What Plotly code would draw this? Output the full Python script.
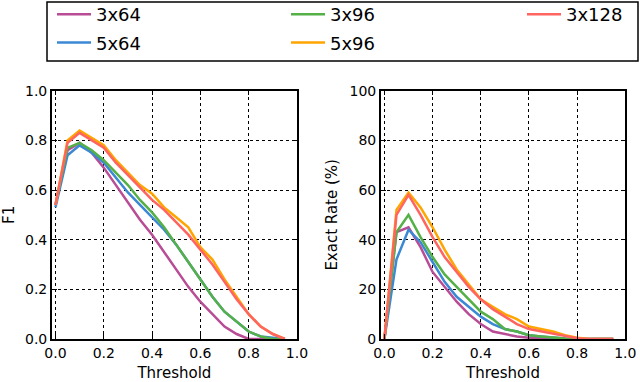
import plotly.graph_objects as go
from plotly.subplots import make_subplots

thresholds = [0.0, 0.05, 0.1, 0.15, 0.2, 0.25, 0.3, 0.35, 0.4, 0.45,
              0.5, 0.55, 0.6, 0.65, 0.7, 0.75, 0.8, 0.85, 0.9, 0.95]

# F1 per threshold
f1_3x64 = [0.54, 0.76, 0.79, 0.75, 0.69, 0.62, 0.55, 0.48, 0.42, 0.35,
           0.28, 0.21, 0.15, 0.10, 0.05, 0.02, 0.0, 0.0, 0.0, 0.0]
f1_5x64 = [0.53, 0.74, 0.78, 0.75, 0.71, 0.65, 0.59, 0.54, 0.49, 0.44,
           0.38, 0.31, 0.24, 0.17, 0.11, 0.07, 0.03, 0.01, 0.005, 0.0]
f1_3x96 = [0.54, 0.77, 0.79, 0.76, 0.72, 0.67, 0.62, 0.56, 0.51, 0.45,
           0.38, 0.31, 0.24, 0.17, 0.11, 0.07, 0.03, 0.01, 0.0, 0.0]
f1_5x96 = [0.54, 0.80, 0.84, 0.81, 0.78, 0.72, 0.67, 0.62, 0.585, 0.53,
           0.49, 0.45, 0.37, 0.32, 0.24, 0.17, 0.10, 0.05, 0.02, 0.0]
f1_3x128 = [0.54, 0.79, 0.83, 0.80, 0.77, 0.71, 0.66, 0.61, 0.56, 0.52,
            0.47, 0.42, 0.36, 0.30, 0.23, 0.16, 0.10, 0.05, 0.02, 0.0]

# exact rate (%) per threshold
er_3x64 = [0, 43, 45, 37, 27, 21, 15, 10, 6, 3, 2, 1, 0.5, 0.2, 0, 0, 0, 0, 0, 0]
er_5x64 = [0, 32, 44, 39, 31, 23, 17, 13, 9, 6, 4, 3, 1.5, 1, 0.5, 0.2, 0, 0, 0, 0]
er_3x96 = [0, 43, 50, 41, 33, 26, 21, 16, 11, 8, 4, 3, 1.5, 1, 0.5, 0.2, 0, 0, 0, 0]
er_5x96 = [0, 52, 59, 53, 45, 36, 28, 22, 16, 13, 10, 8, 5, 4, 3, 1.5, 0.5, 0, 0, 0]
er_3x128 = [0, 50, 58, 50, 41, 33, 27, 21, 16, 12, 9, 6, 4, 3, 2, 1, 0.3, 0, 0, 0]

# plot order (red drawn last); each legend is one column of the legend box
series = [
    ("3x64", f1_3x64, er_3x64, "#b84d96", "legend"),
    ("5x64", f1_5x64, er_5x64, "#3b88d4", "legend"),
    ("3x96", f1_3x96, er_3x96, "#55b048", "legend2"),
    ("5x96", f1_5x96, er_5x96, "#ffa500", "legend2"),
    ("3x128", f1_3x128, er_3x128, "#ff6461", "legend3"),
]

fig = make_subplots(rows=1, cols=2)

for name, f1, er, color, leg in series:
    fig.add_trace(go.Scatter(x=thresholds, y=f1, mode="lines", name=name,
                             line=dict(color=color, width=2.5),
                             legend=leg, legendgroup=name), row=1, col=1)
    fig.add_trace(go.Scatter(x=thresholds, y=er, mode="lines", name=name,
                             line=dict(color=color, width=2.5),
                             legend=leg, legendgroup=name, showlegend=False),
                  row=1, col=2)

axis_style = dict(
    showline=True, linecolor="black", linewidth=1.5, mirror="allticks",
    ticks="inside", ticklen=5, tickcolor="black",
    showgrid=True, gridcolor="black", griddash="dot", gridwidth=1,
    zeroline=False, tickfont=dict(size=14, color="black"),
)

fig.update_xaxes(axis_style, range=[-0.015, 1.0], tickvals=[0, 0.2, 0.4, 0.6, 0.8, 1.0],
                 ticktext=["0.0", "0.2", "0.4", "0.6", "0.8", "1.0"],
                 title=dict(text="Threshold", font=dict(size=15, color="black"), standoff=10))
fig.update_xaxes(domain=[0.081, 0.464], row=1, col=1)
fig.update_xaxes(domain=[0.595, 0.977], row=1, col=2)

fig.update_yaxes(axis_style, domain=[0.1126, 0.7626])
fig.update_yaxes(range=[0, 1.0], tickvals=[0, 0.2, 0.4, 0.6, 0.8, 1.0],
                 ticktext=["0.0", "0.2", "0.4", "0.6", "0.8", "1.0"],
                 title=dict(text="F1", font=dict(size=15, color="black"), standoff=8),
                 row=1, col=1)
fig.update_yaxes(range=[0, 100], tickvals=[0, 20, 40, 60, 80, 100],
                 title=dict(text="Exact Rate (%)", font=dict(size=15, color="black"), standoff=8),
                 row=1, col=2)

leg_common = dict(orientation="v", y=1.0105, xanchor="left", yanchor="top",
                  borderwidth=0, bgcolor="rgba(0,0,0,0)", itemwidth=34,
                  font=dict(size=18), tracegroupgap=2)

fig.update_layout(
    width=640, height=382,
    margin=dict(l=0, r=0, t=0, b=0, autoexpand=False),
    paper_bgcolor="white", plot_bgcolor="white",
    font=dict(family="DejaVu Sans", color="black"),
    legend=dict(leg_common, x=52 / 640),
    legend2=dict(leg_common, x=286 / 640),
    legend3=dict(leg_common, x=522 / 640),
    shapes=[dict(type="rect", xref="paper", yref="paper",
                 x0=47 / 640, x1=638 / 640, y0=1 - 61 / 382, y1=1 - 2 / 382,
                 line=dict(color="black", width=1.5))],
)

fig.write_html("out.html", config={"displayModeBar": False},
               post_script="document.body.style.margin='0';")
